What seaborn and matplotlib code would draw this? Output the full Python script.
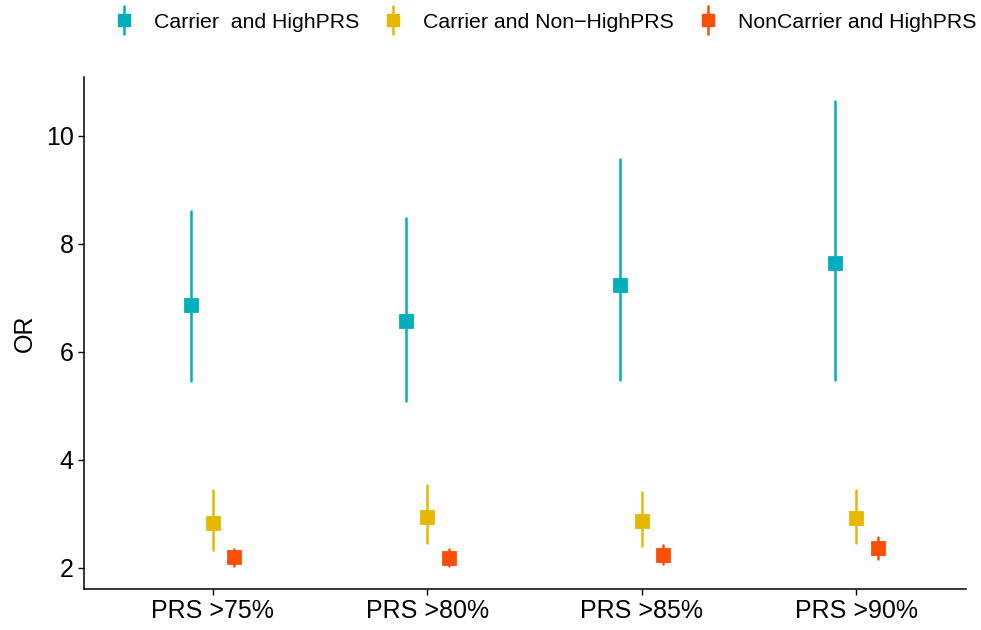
import numpy as np
import pandas as pd
import matplotlib
matplotlib.use('Agg')
import matplotlib.pyplot as plt
from matplotlib.lines import Line2D
from matplotlib.legend_handler import HandlerTuple
import seaborn as sns

# odds ratios with 95% CI
thresholds = ['PRS >75%', 'PRS >80%', 'PRS >85%', 'PRS >90%']
groups = ['Carrier  and HighPRS', 'Carrier and Non\u2212HighPRS', 'NonCarrier and HighPRS']

or_carrier_high = [6.87, 6.57, 7.24, 7.65]
lo_carrier_high = [5.46, 5.09, 5.48, 5.48]
hi_carrier_high = [8.61, 8.48, 9.57, 10.65]

or_carrier_non = [2.83, 2.94, 2.87, 2.93]
lo_carrier_non = [2.33, 2.46, 2.41, 2.46]
hi_carrier_non = [3.44, 3.54, 3.41, 3.44]

or_noncarrier_high = [2.20, 2.18, 2.24, 2.37]
lo_noncarrier_high = [2.04, 2.04, 2.07, 2.17]
hi_noncarrier_high = [2.35, 2.35, 2.42, 2.57]

colors = ['#00AFBB', '#E7B800', '#FC4E07']

# long table: lower, estimate, upper per cell -> median = estimate, min/max = CI
rows = []
series = [(or_carrier_high, lo_carrier_high, hi_carrier_high),
          (or_carrier_non, lo_carrier_non, hi_carrier_non),
          (or_noncarrier_high, lo_noncarrier_high, hi_noncarrier_high)]
for g, (est, lo, hi) in zip(groups, series):
    for i, t in enumerate(thresholds):
        for v in (lo[i], est[i], hi[i]):
            rows.append({'threshold': t, 'group': g, 'OR': v})
df = pd.DataFrame(rows)

sns.set_style('ticks')
plt.rcParams['font.family'] = ['Liberation Sans', 'DejaVu Sans']
plt.rcParams['text.color'] = 'black'

fig = plt.figure(figsize=(9.81, 6.3), dpi=100)
ax = fig.add_axes([0.0856, 0.065, 0.899, 0.813])

sns.pointplot(data=df, x='threshold', y='OR', hue='group', order=thresholds,
              hue_order=groups, palette=colors, estimator=np.median,
              errorbar=lambda x: (np.min(x), np.max(x)),
              dodge=0.2, markers='s', linestyles='none', markersize=9,
              err_kws={'linewidth': 1.8}, capsize=0, ax=ax, legend=False)

ax.set_xlim(-0.6, 3.51)
ax.set_ylim(1.61, 11.09)
ax.set_yticks([2, 4, 6, 8, 10])
ax.set_xlabel('')
ax.set_ylabel('OR', fontsize=18, color='black', labelpad=6)
ax.tick_params(labelsize=18, colors='black', length=4, width=1.0)
for s in ['top', 'right']:
    ax.spines[s].set_visible(False)
for s in ['left', 'bottom']:
    ax.spines[s].set_linewidth(1.1)
    ax.spines[s].set_color('black')

handles = []
for c in colors:
    bar = Line2D([], [], color=c, marker='|', markersize=22, markeredgewidth=1.8, linestyle='none')
    sq = Line2D([], [], color=c, marker='s', markersize=9, linestyle='none')
    handles.append((bar, sq))
fig.legend(handles, groups, handler_map={tuple: HandlerTuple(ndivide=1)},
           loc='upper center', bbox_to_anchor=(0.5555, 1.01), ncol=3, frameon=False,
           fontsize=15.3, handlelength=1.0, handletextpad=0.9, columnspacing=1.12,
           labelcolor='black')

fig.savefig('out.png', dpi=100)
